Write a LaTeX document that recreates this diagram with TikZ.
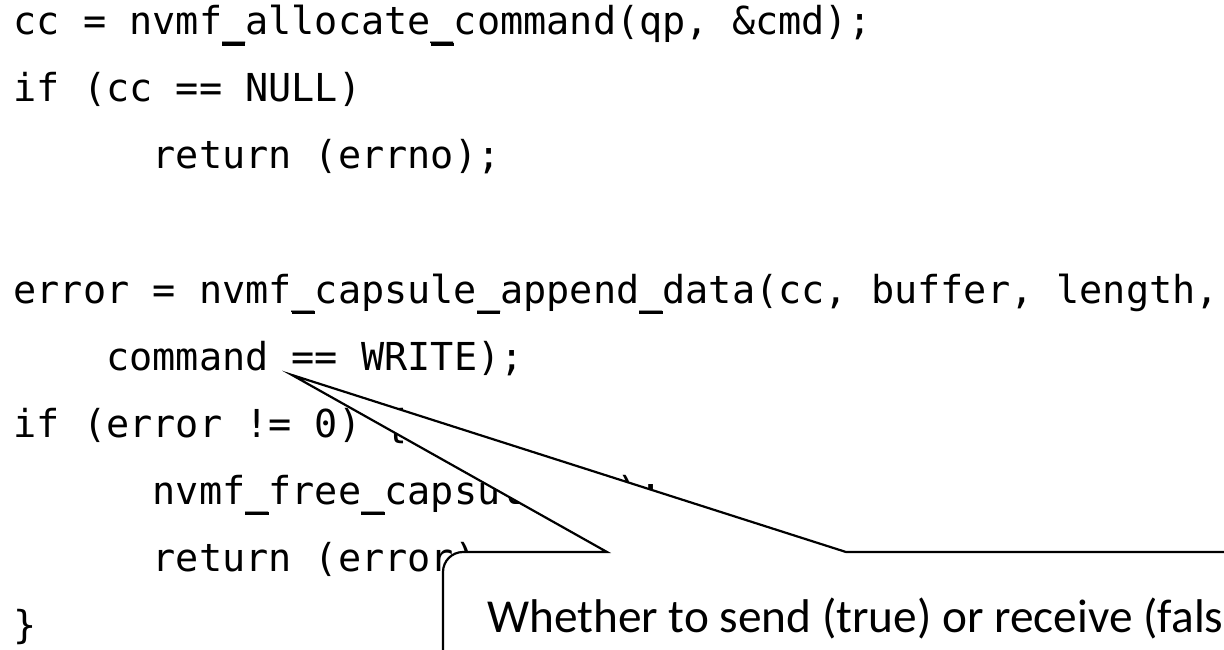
\documentclass[tikz,border=0pt]{standalone}
\usepackage{fontspec}
\newfontfamily\codefont{DejaVu Sans Mono}
\newfontfamily\notefont{Carlito}
\newcommand{\us}{\rlap{\char"5F}\rule[-0.28em]{0.602em}{0.075em}}
\begin{document}
\begin{tikzpicture}[x=1pt,y=-1pt,
  codeline/.style={anchor=base west,inner sep=0pt,font=\codefont\fontsize{38.5}{46}\selectfont},
  notetext/.style={anchor=base west,inner sep=0pt,font=\notefont\fontsize{47.3}{56}\selectfont},
  calloutshape/.style={draw=black,fill=white,line width=2.2pt,line join=miter}]
\useasboundingbox (0,0) rectangle (1224,650);
\pgfmathsetmacro{\adv}{23.19}
\pgfmathsetmacro{\xo}{13.4}
\begin{scope}
\clip (0,0) rectangle (1224,650);
\node[codeline] (l1) at (\xo,35) {cc = nvmf\us allocate\us command(qp, \&cmd);};
\node[codeline] (l2) at (\xo,102) {if (cc == NULL)};
\node[codeline] (l3) at (\xo+6*\adv,169) {return (errno);};
\node[codeline] (l5) at (\xo,303) {error = nvmf\us capsule\us append\us data(cc, buffer, length,};
\node[codeline] (l6) at (\xo+4*\adv,370) {command == WRITE);};
\node[codeline] (l7) at (\xo,437) {if (error != 0) \{};
\node[codeline] (l8) at (\xo+6*\adv,504) {nvmf\us free\us capsule(cc);};
\node[codeline] (l9) at (\xo+6*\adv,571) {return (error);};
\node[codeline] (l10) at (\xo,638) {\}};
% callout
\coordinate (tip) at (292,375);
\coordinate (baseL) at (607,552);
\coordinate (baseR) at (846,552);
\draw[calloutshape] (baseL) -- (tip) -- (baseR) -- (1260,552) -- (1260,700) -- (443,700)
  -- (443,572) arc[start angle=180,end angle=270,radius=20] -- cycle;
\node[notetext] (note) at (487,632) {Whether to send (true) or receive (false)};
\end{scope}
\end{tikzpicture}
\end{document}
